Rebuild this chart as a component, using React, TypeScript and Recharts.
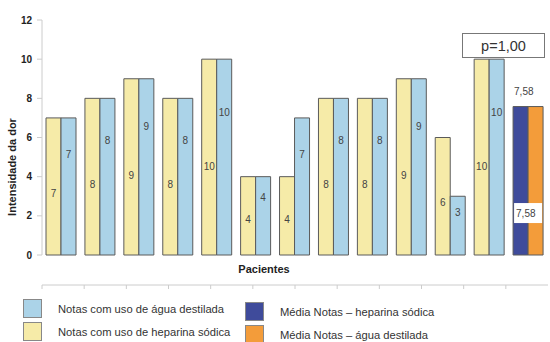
import { BarChart, Bar, XAxis, YAxis, Cell, LabelList } from 'recharts'

const pacientes = ['1', '2', '3', '4', '5', '6', '7', '8', '9', '10', '11', '12', 'Média']
const heparina = [7, 8, 9, 8, 10, 4, 4, 8, 8, 9, 6, 10, 7.58]
const agua = [7, 8, 9, 8, 10, 4, 7, 8, 8, 9, 3, 10, 7.58]
const yTicks = [0, 2, 4, 6, 8, 10, 12]
const pValue = 'p=1,00'

const data = pacientes.map((p, i) => ({ paciente: p, heparina: heparina[i], agua: agua[i] }))
const meanIndex = pacientes.length - 1
const boundaries = pacientes.map((_, i) => i).concat([pacientes.length])

const YELLOW = '#F6EBA8'
const LIGHT_BLUE = '#ABD3E8'
const DARK_BLUE = '#3F4B9B'
const ORANGE = '#F39C3A'
const STROKE = '#5a5a5a'
const FONT = '"Liberation Sans", Arial, sans-serif'

const legendItems = [
  { label: 'Notas com uso de água destilada', color: LIGHT_BLUE, left: 23, top: 299 },
  { label: 'Notas com uso de heparina sódica', color: YELLOW, left: 23, top: 322 },
  { label: 'Média Notas – heparina sódica', color: DARK_BLUE, left: 245, top: 302 },
  { label: 'Média Notas – água destilada', color: ORANGE, left: 245, top: 325 },
]

const fmt = (v: number) => (Number.isInteger(v) ? String(v) : v.toFixed(2).replace('.', ','))

const makeLabel = (frac: number, isAgua: boolean) => (props: any) => {
  const { x, y, width, height, value, index } = props
  if (index === meanIndex) {
    if (isAgua) {
      return (
        <g>
          <rect x={x - width + 1} y={y + height * 0.65} width={width * 2 - 2} height={20} fill="#fff" />
          <text x={x - width + 3} y={y + height * 0.65 + 10} dy="0.35em" fontSize={10} fill="#444" fontFamily={FONT}>
            {fmt(value)}
          </text>
        </g>
      )
    }
    return (
      <text x={x + 1} y={y - 12} fontSize={10} fill="#444" fontFamily={FONT}>
        {fmt(value)}
      </text>
    )
  }
  return (
    <text x={x + width / 2} y={y + height * frac} dy="0.35em" textAnchor="middle" fontSize={10} fill="#444" fontFamily={FONT}>
      {fmt(value)}
    </text>
  )
}

const EmptyTick = () => <g />

export default function App() {
  return (
    <div style={{ position: 'absolute', left: 0, top: 0, width: 550, height: 342, background: '#fff', fontFamily: FONT, overflow: 'hidden' }}>
      <BarChart width={550} height={342} data={data} margin={{ top: 20, right: 2, bottom: 57, left: 0 }} barGap={0} barSize={15}>
        <XAxis xAxisId="cat" dataKey="paciente" hide />
        <XAxis
          xAxisId="grid"
          type="number"
          domain={[0, pacientes.length]}
          ticks={boundaries}
          allowDataOverflow
          height={30}
          tick={<EmptyTick />}
          tickSize={4}
          stroke="#ccc"
          tickLine={{ stroke: '#ccc' }}
          axisLine={{ stroke: '#ccc' }}
        />
        <YAxis
          width={42}
          domain={[0, 12]}
          ticks={yTicks}
          tickSize={5}
          tickMargin={5}
          axisLine={{ stroke: '#ccc' }}
          tickLine={{ stroke: '#ccc' }}
          tick={{ fontSize: 10, fontWeight: 'bold', fill: '#222', fontFamily: FONT }}
        />
        <Bar xAxisId="cat" dataKey="heparina" isAnimationActive={false} stroke={STROKE} strokeWidth={1}>
          {data.map((_, i) => (
            <Cell key={i} fill={i === meanIndex ? DARK_BLUE : YELLOW} />
          ))}
          <LabelList dataKey="heparina" content={makeLabel(0.55, false)} />
        </Bar>
        <Bar xAxisId="cat" dataKey="agua" isAnimationActive={false} stroke={STROKE} strokeWidth={1}>
          {data.map((_, i) => (
            <Cell key={i} fill={i === meanIndex ? ORANGE : LIGHT_BLUE} />
          ))}
          <LabelList dataKey="agua" content={makeLabel(0.27, true)} />
        </Bar>
      </BarChart>

      <div
        style={{
          position: 'absolute',
          left: 12,
          top: 167,
          transform: 'translate(-50%, -50%) rotate(-90deg)',
          whiteSpace: 'nowrap',
          fontSize: 11,
          fontWeight: 'bold',
          color: '#222',
        }}
      >
        Intensidade da dor
      </div>
      <div
        style={{
          position: 'absolute',
          left: 264,
          top: 269,
          transform: 'translate(-50%, -50%)',
          whiteSpace: 'nowrap',
          fontSize: 11,
          fontWeight: 'bold',
          color: '#222',
        }}
      >
        Pacientes
      </div>
      <div
        style={{
          position: 'absolute',
          left: 462,
          top: 33,
          width: 81,
          height: 23,
          border: '1px solid #777',
          background: '#fff',
          display: 'flex',
          alignItems: 'center',
          justifyContent: 'center',
          fontSize: 14.5,
          color: '#333',
        }}
      >
        {pValue}
      </div>

      {legendItems.map((item) => (
        <div key={item.label} style={{ position: 'absolute', left: item.left, top: item.top, display: 'flex', alignItems: 'center' }}>
          <div style={{ width: 17, height: 17, background: item.color, border: '1px solid #888' }} />
          <span style={{ marginLeft: 16, fontSize: 11.2, color: '#333', whiteSpace: 'nowrap' }}>{item.label}</span>
        </div>
      ))}
    </div>
  )
}
